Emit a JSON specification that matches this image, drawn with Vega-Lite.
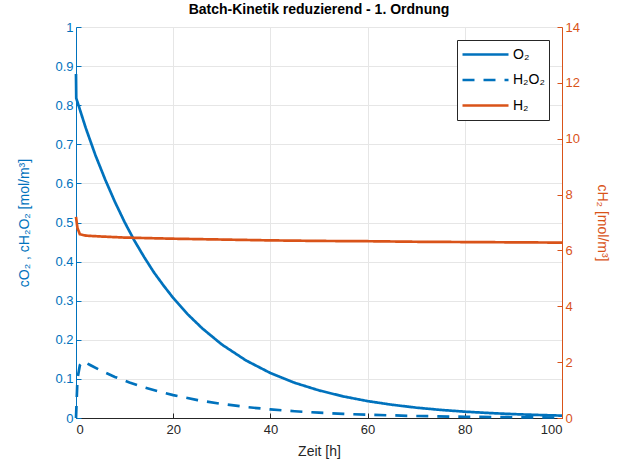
{
  "$schema": "https://vega.github.io/schema/vega-lite/v6.json",
  "width": 486,
  "height": 391,
  "autosize": {"type": "none"},
  "padding": {"left": 76, "top": 27, "right": 66, "bottom": 49},
  "background": "white",
  "config": {
    "font": "Liberation Sans",
    "view": {"stroke": null},
    "axis": {"labelFontSize": 13, "titleFontSize": 14, "titleFontWeight": "normal", "grid": false, "tickSize": -5, "domainWidth": 1}
  },
  "title": {"text": "Batch-Kinetik reduzierend - 1. Ordnung", "fontSize": 14, "fontWeight": "bold", "color": "#000000", "offset": 4, "font": "Liberation Sans"},
  "data": {"values": [
    {"t": 0, "v": 0.88, "series": "O₂", "ord": 0},
    {"t": 0.05, "v": 0.818, "series": "O₂", "ord": 1},
    {"t": 2, "v": 0.742, "series": "O₂", "ord": 2},
    {"t": 4, "v": 0.672, "series": "O₂", "ord": 3},
    {"t": 6, "v": 0.610, "series": "O₂", "ord": 4},
    {"t": 8, "v": 0.553, "series": "O₂", "ord": 5},
    {"t": 10, "v": 0.501, "series": "O₂", "ord": 6},
    {"t": 12, "v": 0.454, "series": "O₂", "ord": 7},
    {"t": 14, "v": 0.412, "series": "O₂", "ord": 8},
    {"t": 16, "v": 0.373, "series": "O₂", "ord": 9},
    {"t": 18, "v": 0.339, "series": "O₂", "ord": 10},
    {"t": 20, "v": 0.307, "series": "O₂", "ord": 11},
    {"t": 23, "v": 0.265, "series": "O₂", "ord": 12},
    {"t": 26, "v": 0.229, "series": "O₂", "ord": 13},
    {"t": 30, "v": 0.188, "series": "O₂", "ord": 14},
    {"t": 35, "v": 0.147, "series": "O₂", "ord": 15},
    {"t": 40, "v": 0.115, "series": "O₂", "ord": 16},
    {"t": 45, "v": 0.090, "series": "O₂", "ord": 17},
    {"t": 50, "v": 0.0706, "series": "O₂", "ord": 18},
    {"t": 55, "v": 0.0552, "series": "O₂", "ord": 19},
    {"t": 60, "v": 0.0432, "series": "O₂", "ord": 20},
    {"t": 65, "v": 0.0339, "series": "O₂", "ord": 21},
    {"t": 70, "v": 0.0265, "series": "O₂", "ord": 22},
    {"t": 75, "v": 0.0207, "series": "O₂", "ord": 23},
    {"t": 80, "v": 0.0162, "series": "O₂", "ord": 24},
    {"t": 85, "v": 0.0127, "series": "O₂", "ord": 25},
    {"t": 90, "v": 0.0099, "series": "O₂", "ord": 26},
    {"t": 95, "v": 0.0078, "series": "O₂", "ord": 27},
    {"t": 100, "v": 0.0061, "series": "O₂", "ord": 28},
    {"t": 0, "v": 0.0, "series": "H₂O₂", "ord": 0},
    {"t": 0.3, "v": 0.10, "series": "H₂O₂", "ord": 1},
    {"t": 0.8, "v": 0.135, "series": "H₂O₂", "ord": 2},
    {"t": 1.5, "v": 0.145, "series": "H₂O₂", "ord": 3},
    {"t": 3, "v": 0.135, "series": "H₂O₂", "ord": 4},
    {"t": 5, "v": 0.122, "series": "H₂O₂", "ord": 5},
    {"t": 8, "v": 0.105, "series": "H₂O₂", "ord": 6},
    {"t": 11, "v": 0.091, "series": "H₂O₂", "ord": 7},
    {"t": 14, "v": 0.0786, "series": "H₂O₂", "ord": 8},
    {"t": 17, "v": 0.0678, "series": "H₂O₂", "ord": 9},
    {"t": 20, "v": 0.0586, "series": "H₂O₂", "ord": 10},
    {"t": 25, "v": 0.0458, "series": "H₂O₂", "ord": 11},
    {"t": 30, "v": 0.0359, "series": "H₂O₂", "ord": 12},
    {"t": 35, "v": 0.0281, "series": "H₂O₂", "ord": 13},
    {"t": 40, "v": 0.022, "series": "H₂O₂", "ord": 14},
    {"t": 45, "v": 0.0172, "series": "H₂O₂", "ord": 15},
    {"t": 50, "v": 0.0135, "series": "H₂O₂", "ord": 16},
    {"t": 55, "v": 0.0105, "series": "H₂O₂", "ord": 17},
    {"t": 60, "v": 0.0083, "series": "H₂O₂", "ord": 18},
    {"t": 70, "v": 0.0051, "series": "H₂O₂", "ord": 19},
    {"t": 80, "v": 0.0031, "series": "H₂O₂", "ord": 20},
    {"t": 90, "v": 0.0019, "series": "H₂O₂", "ord": 21},
    {"t": 100, "v": 0.0012, "series": "H₂O₂", "ord": 22},
    {"t": 0, "v": 7.2, "series": "H₂", "ord": 0},
    {"t": 0.3, "v": 6.8, "series": "H₂", "ord": 1},
    {"t": 0.8, "v": 6.58, "series": "H₂", "ord": 2},
    {"t": 2, "v": 6.53, "series": "H₂", "ord": 3},
    {"t": 5, "v": 6.5, "series": "H₂", "ord": 4},
    {"t": 10, "v": 6.46, "series": "H₂", "ord": 5},
    {"t": 20, "v": 6.42, "series": "H₂", "ord": 6},
    {"t": 30, "v": 6.39, "series": "H₂", "ord": 7},
    {"t": 40, "v": 6.36, "series": "H₂", "ord": 8},
    {"t": 50, "v": 6.34, "series": "H₂", "ord": 9},
    {"t": 60, "v": 6.33, "series": "H₂", "ord": 10},
    {"t": 70, "v": 6.31, "series": "H₂", "ord": 11},
    {"t": 80, "v": 6.30, "series": "H₂", "ord": 12},
    {"t": 90, "v": 6.29, "series": "H₂", "ord": 13},
    {"t": 100, "v": 6.28, "series": "H₂", "ord": 14}
  ]},
  "encoding": {
    "x": {"field": "t", "type": "quantitative", "scale": {"domain": [0, 100], "nice": false},
      "axis": {"title": "Zeit [h]", "values": [0, 20, 40, 60, 80, 100], "grid": true, "gridColor": "#e6e6e6", "domainColor": "#262626", "tickColor": "#262626", "labelColor": "#262626", "titleColor": "#262626", "labelPadding": 10, "titlePadding": 8}},
    "order": {"field": "ord", "type": "quantitative"},
    "color": {"field": "series", "type": "nominal",
      "scale": {"domain": ["O₂", "H₂O₂", "H₂"], "range": ["#0072BD", "#0072BD", "#D95319"]},
      "legend": {"title": null, "orient": "none", "legendX": 381, "legendY": 13, "symbolType": "stroke", "symbolSize": 2116, "symbolStrokeWidth": 2.5, "clipHeight": 21, "labelFontSize": 14, "labelColor": "#000000", "strokeColor": "#262626", "fillColor": "#ffffff", "padding": 4, "rowPadding": 4.5, "labelOffset": 3}},
    "strokeDash": {"field": "series", "type": "nominal",
      "scale": {"domain": ["O₂", "H₂O₂", "H₂"], "range": [[1, 0], [12, 9], [1, 0]]},
      "legend": {"title": null, "orient": "none", "legendX": 381, "legendY": 13, "symbolType": "stroke", "symbolSize": 2116, "symbolStrokeWidth": 2.5, "clipHeight": 21, "labelFontSize": 14, "labelColor": "#000000", "strokeColor": "#262626", "fillColor": "#ffffff", "padding": 4, "rowPadding": 4.5, "labelOffset": 3}}
  },
  "layer": [
    {
      "transform": [{"filter": "datum.series != 'H₂'"}],
      "mark": {"type": "line", "strokeWidth": 2.7},
      "encoding": {
        "y": {"field": "v", "type": "quantitative", "scale": {"domain": [0, 1], "nice": false},
          "axis": {"orient": "left", "title": "cO₂ , cH₂O₂ [mol/m³]", "values": [0, 0.1, 0.2, 0.3, 0.4, 0.5, 0.6, 0.7, 0.8, 0.9, 1], "format": "~g", "grid": true, "gridColor": "#e6e6e6", "domainColor": "#0072BD", "tickColor": "#0072BD", "labelColor": "#0072BD", "titleColor": "#0072BD", "labelPadding": 8, "titlePadding": 23}}
      }
    },
    {
      "transform": [{"filter": "datum.series == 'H₂'"}],
      "mark": {"type": "line", "strokeWidth": 2.7},
      "encoding": {
        "y": {"field": "v", "type": "quantitative", "scale": {"domain": [0, 14], "nice": false},
          "axis": {"orient": "right", "title": "cH₂ [mol/m³]", "values": [0, 2, 4, 6, 8, 10, 12, 14], "grid": false, "domainColor": "#D95319", "tickColor": "#D95319", "labelColor": "#D95319", "titleColor": "#D95319", "labelPadding": 8, "titlePadding": 15}}
      }
    }
  ],
  "resolve": {"scale": {"y": "independent"}}
}
